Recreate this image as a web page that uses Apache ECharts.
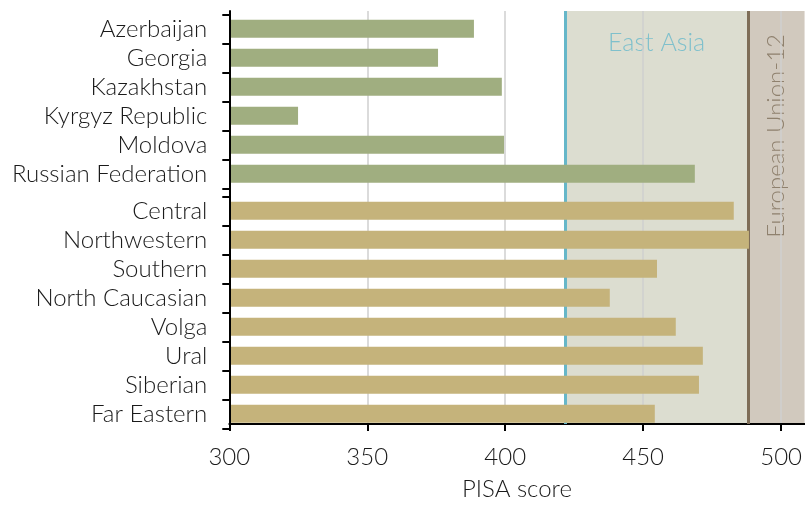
<!DOCTYPE html>
<html>
<head>
<meta charset="utf-8">
<script src="https://cdn.jsdelivr.net/npm/echarts@6/dist/echarts.min.js"></script>
<style>
html,body{margin:0;padding:0;background:#fff;}
#chart{width:805px;height:506px;}
</style>
</head>
<body>
<div id="chart"></div>
<script>
const countryCategories = ['Azerbaijan', 'Georgia', 'Kazakhstan', 'Kyrgyz Republic', 'Moldova', 'Russian Federation'];
const countryScores = [388.6, 375.6, 398.7, 324.9, 399.5, 468.6];
const regionCategories = ['Central', 'Northwestern', 'Southern', 'North Caucasian', 'Volga', 'Ural', 'Siberian', 'Far Eastern'];
const regionScores = [482.7, 488.2, 454.9, 437.8, 461.7, 471.5, 470.1, 454.1];
const xTickValues = [300, 350, 400, 450, 500];
const eastAsiaScore = 421.7;
const eu12Score = 488.0;
const xMin = 300;
const xMax = 508.5;

const FONT = 'Lato';
const WEIGHT = 300;
const TEXT = '#1a1a1a';

const chart = echarts.init(document.getElementById('chart'), null, {renderer: 'canvas'});

const hiddenX = (i) => ({
  gridIndex: i, type: 'value', min: xMin, max: xMax, interval: 50, show: false
});
const catY = (i, cats) => ({
  gridIndex: i, type: 'category', data: cats, inverse: true, z: 20,
  axisLine: {show: true, lineStyle: {color: '#000', width: 2}},
  axisTick: {show: true, interval: 0, length: 7, lineStyle: {color: '#000', width: 2}},
  axisLabel: {interval: 0, hideOverlap: false, fontFamily: FONT, fontWeight: WEIGHT, fontSize: 24, color: TEXT, margin: 22},
  splitLine: {show: false}
});

chart.setOption({
  animation: false,
  backgroundColor: '#ffffff',
  grid: [
    {left: 229.3, right: 0, top: 11, bottom: 69.3},
    {left: 229.3, right: 0, top: 14.3, height: 174},
    {left: 229.3, right: 0, top: 196.3, height: 232}
  ],
  xAxis: [
    {
      gridIndex: 0, type: 'value', min: xMin, max: xMax, interval: 50, z: 2,
      name: 'PISA score', nameLocation: 'middle', nameGap: 53,
      nameTextStyle: {fontFamily: FONT, fontWeight: WEIGHT, fontSize: 24, color: TEXT},
      axisLine: {show: true, lineStyle: {color: '#000', width: 2}},
      axisTick: {show: true, length: 7, lineStyle: {color: '#000', width: 2}, customValues: xTickValues},
      axisLabel: {fontFamily: FONT, fontWeight: WEIGHT, fontSize: 24, color: TEXT, margin: 21, customValues: xTickValues},
      splitLine: {show: true, lineStyle: {color: '#cfcfcf', width: 1.5}}
    },
    hiddenX(1),
    hiddenX(2)
  ],
  yAxis: [
    {
      gridIndex: 0, type: 'value', min: 0, max: 1, z: 20,
      axisLine: {show: true, lineStyle: {color: '#000', width: 2}},
      axisTick: {show: false}, axisLabel: {show: false}, splitLine: {show: false}
    },
    catY(1, countryCategories),
    catY(2, regionCategories)
  ],
  series: [
    {
      type: 'line', xAxisIndex: 0, yAxisIndex: 0, data: [], silent: true,
      markArea: {
        silent: true,
        data: [
          [
            {
              xAxis: eastAsiaScore, name: 'East Asia',
              itemStyle: {color: '#dcddd0'},
              label: {show: true, position: 'insideTop', distance: 19, fontFamily: FONT, fontWeight: WEIGHT, fontSize: 25, color: '#7fc0cc'}
            },
            {xAxis: eu12Score}
          ],
          [
            {
              xAxis: eu12Score, name: 'European Union-12',
              itemStyle: {color: '#d1c9be'},
              label: {show: true, position: 'insideTop', distance: 23, rotate: 90, align: 'right', verticalAlign: 'middle', fontFamily: FONT, fontWeight: WEIGHT, fontSize: 24, color: '#8f816e'}
            },
            {xAxis: xMax}
          ]
        ]
      },
      markLine: {
        silent: true, symbol: ['none', 'none'],
        label: {show: false},
        data: [
          {xAxis: eastAsiaScore, lineStyle: {color: '#66b7c9', width: 3, type: 'solid'}},
          {xAxis: eu12Score, lineStyle: {color: '#7e6d57', width: 3, type: 'solid'}}
        ]
      }
    },
    {
      type: 'bar', xAxisIndex: 1, yAxisIndex: 1, z: 10, barWidth: 18,
      data: countryScores, itemStyle: {color: '#a0ae80'}, silent: true
    },
    {
      type: 'bar', xAxisIndex: 2, yAxisIndex: 2, z: 10, barWidth: 18,
      data: regionScores, itemStyle: {color: '#c5b37b'}, silent: true
    }
  ]
});
</script>
</body>
</html>
